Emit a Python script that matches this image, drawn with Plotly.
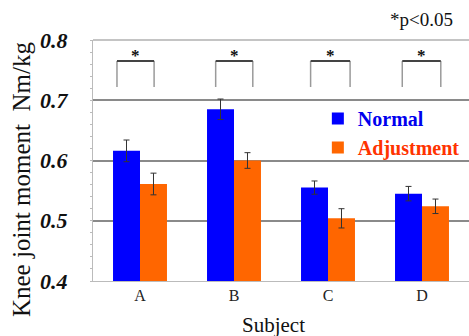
import plotly.graph_objects as go

subjects = ["A", "B", "C", "D"]
normal = [0.616, 0.685, 0.555, 0.545]
normal_err = [0.018, 0.017, 0.011, 0.012]
adjust = [0.561, 0.600, 0.504, 0.524]
adjust_err = [0.018, 0.013, 0.016, 0.012]
sig_labels = ["*", "*", "*", "*"]
y_ticks = [0.4, 0.5, 0.6, 0.7, 0.8]

SERIF = "Liberation Serif, Times New Roman, serif"

fig = go.Figure()
fig.add_trace(go.Bar(
    x=subjects, y=normal, name="<b>Normal</b>",
    marker=dict(color="#0000FF", line=dict(width=0)),
    error_y=dict(type="data", array=normal_err, color="#333333", thickness=1, width=3),
))
fig.add_trace(go.Bar(
    x=subjects, y=adjust, name="<b><span style='color:#FF3300'>Adjustment</span></b>",
    marker=dict(color="#FF6600", line=dict(width=0)),
    error_y=dict(type="data", array=adjust_err, color="#333333", thickness=1, width=3),
))

# significance brackets
br_left = [-0.245, -0.195, -0.185, -0.21]
br_right = [0.15, 0.2, 0.235, 0.2]
br_top, br_bot = 0.765, 0.722
for i, lab in enumerate(sig_labels):
    x0, x1 = i + br_left[i], i + br_right[i]
    fig.add_shape(type="line", xref="x", yref="y", x0=x0, x1=x0, y0=br_bot, y1=br_top,
                  line=dict(color="#9a9a9a", width=1.5))
    fig.add_shape(type="line", xref="x", yref="y", x0=x1, x1=x1, y0=br_bot, y1=br_top,
                  line=dict(color="#9a9a9a", width=1.5))
    fig.add_shape(type="line", xref="x", yref="y", x0=x0, x1=x1, y0=br_top, y1=br_top,
                  line=dict(color="#444444", width=2))
    fig.add_annotation(x=(x0 + x1) / 2, y=br_top, xref="x", yref="y", text="<b>" + lab + "</b>",
                       showarrow=False, yanchor="bottom", yshift=-6,
                       font=dict(family=SERIF, size=17, color="#111111"))

fig.add_annotation(x=1.0, y=1.0, xref="paper", yref="paper", text="*p<0.05",
                   showarrow=False, xanchor="right", yanchor="bottom", xshift=-14, yshift=8,
                   font=dict(family=SERIF, size=19, color="#111111"))
fig.add_annotation(x=0.48, y=0, xref="paper", yref="paper", text="Subject",
                   showarrow=False, xanchor="center", yanchor="top", yshift=-30,
                   font=dict(family=SERIF, size=21, color="#111111"))
fig.add_annotation(x=-0.1915, y=0.423, xref="paper", yref="paper", text="Knee joint moment  Nm/kg",
                   showarrow=False, textangle=-90, xanchor="center", yanchor="middle",
                   font=dict(family=SERIF, size=25, color="#111111"))

fig.update_layout(
    width=469, height=336,
    margin=dict(l=93, r=0, t=40, b=55),
    paper_bgcolor="white", plot_bgcolor="white",
    barmode="group", bargap=0.426, bargroupgap=0,
    showlegend=True,
    legend=dict(x=0.598, y=0.755, xanchor="left", yanchor="top",
                font=dict(family=SERIF, size=20, color="#0000EE"),
                bgcolor="rgba(0,0,0,0)", itemwidth=30, tracegroupgap=0),
    xaxis=dict(range=[-0.5, 3.5], showgrid=False, showline=True, linecolor="#bbbbbb", linewidth=1,
               ticks="", tickfont=dict(family=SERIF, size=16, color="#222222"), zeroline=False),
    yaxis=dict(range=[0.4, 0.8], tickvals=y_ticks, ticktext=["<b><i>%.1f</i></b>" % v for v in y_ticks],
               showgrid=True, gridcolor="#8a8a8a", gridwidth=1.5,
               showline=True, linecolor="#bbbbbb", linewidth=1, mirror=False,
               ticks="", ticklabelstandoff=20, zeroline=False,
               tickfont=dict(family=SERIF, size=22, color="#111111"),
               minor=dict(dtick=0.02, ticks="outside", ticklen=2, tickcolor="#bbbbbb", showgrid=False)),
)
# top border
fig.add_shape(type="line", xref="paper", yref="paper", x0=0, x1=1, y0=1, y1=1,
              line=dict(color="#b0b0b0", width=1.5))

fig.write_html("out.html", config={"displayModeBar": False},
               post_script="document.body.style.margin='0';")
